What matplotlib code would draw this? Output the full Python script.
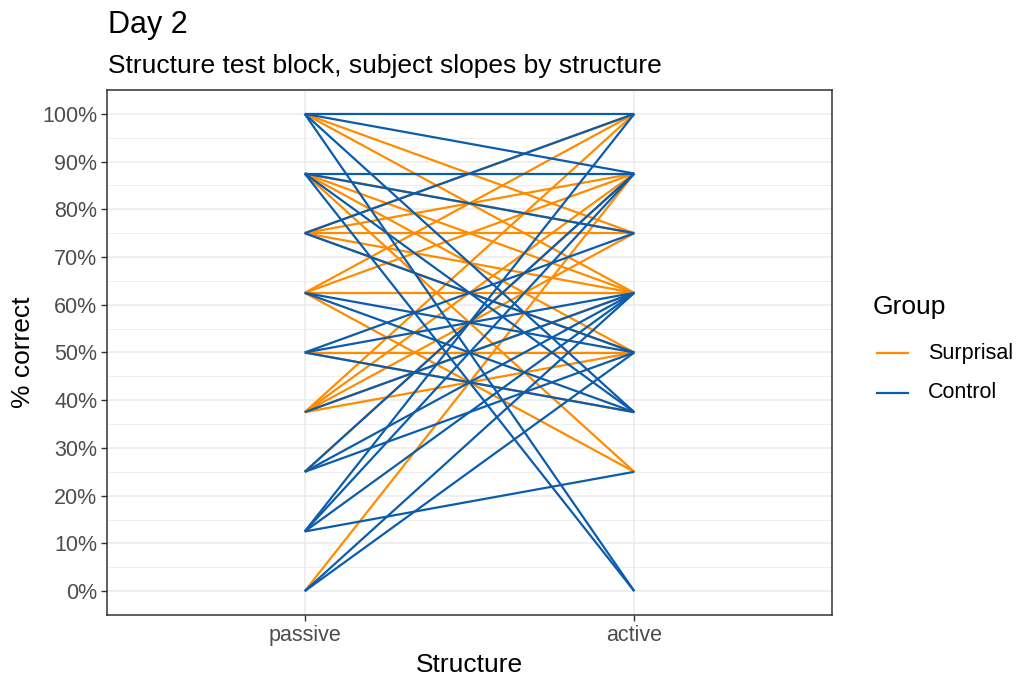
import matplotlib.pyplot as plt
from matplotlib.lines import Line2D
from matplotlib.ticker import MultipleLocator, PercentFormatter

plt.rcParams['font.family'] = ['Liberation Sans', 'DejaVu Sans']

# Subject scores (% correct), passive -> active
surprisal_passive = [100, 100, 87.5, 87.5, 87.5, 87.5, 75, 75, 75, 75, 75,
                     62.5, 62.5, 62.5, 62.5, 50, 50, 37.5, 37.5, 37.5, 37.5,
                     37.5, 25, 0]
surprisal_active = [75, 62.5, 75, 62.5, 50, 25, 75, 87.5, 62.5, 100, 50,
                    62.5, 100, 87.5, 25, 50, 37.5, 100, 87.5, 75, 62.5,
                    50, 87.5, 87.5]
control_passive = [100, 100, 100, 100, 87.5, 87.5, 87.5, 87.5, 75, 75,
                   62.5, 62.5, 50, 50, 50, 37.5, 25, 25, 25, 12.5, 12.5,
                   12.5, 12.5, 0, 0]
control_active = [100, 87.5, 0, 37.5, 87.5, 75, 0, 37.5, 100, 50, 37.5,
                  50, 62.5, 75, 37.5, 62.5, 87.5, 62.5, 50, 100, 62.5,
                  25, 87.5, 50, 62.5]

structures = ['passive', 'active']
groups = ['Surprisal', 'Control']
colors = {'Surprisal': '#FF8C00', 'Control': '#0B5CAD'}

fig = plt.figure(figsize=(10.17, 6.8), dpi=100)
ax = fig.add_axes([107 / 1017, 65 / 680, 725 / 1017, 525 / 680])

for p, a in zip(surprisal_passive, surprisal_active):
    ax.plot([0, 1], [p / 100, a / 100], color=colors['Surprisal'], lw=1.6,
            solid_capstyle='butt', zorder=3)
for p, a in zip(control_passive, control_active):
    ax.plot([0, 1], [p / 100, a / 100], color=colors['Control'], lw=1.6,
            solid_capstyle='butt', zorder=3)

ax.set_xlim(-0.6, 1.6)
ax.set_ylim(-0.05, 1.05)
ax.set_xticks([0, 1])
ax.set_xticklabels(structures)
ax.yaxis.set_major_locator(MultipleLocator(0.1))
ax.yaxis.set_minor_locator(MultipleLocator(0.05))
ax.yaxis.set_major_formatter(PercentFormatter(1.0, decimals=0))
ax.grid(True, which='major', color='#EBEBEB', lw=1.1, zorder=0)
ax.grid(True, which='minor', axis='y', color='#EBEBEB', lw=0.6, zorder=0)
ax.set_axisbelow(True)
for s in ax.spines.values():
    s.set_color('#333333')
    s.set_linewidth(1.1)
ax.tick_params(axis='both', which='major', labelsize=15.5, labelcolor='#4D4D4D',
               color='#333333', length=4, width=1.0, pad=3)
ax.tick_params(axis='y', which='minor', length=0)

ax.set_xlabel('Structure', fontsize=19, labelpad=5)
ax.set_ylabel('% correct', fontsize=19, labelpad=5)

fig.text(108 / 1017, 1 - 33 / 680, 'Day 2', fontsize=22, va='baseline', ha='left')
fig.text(108 / 1017, 1 - 73 / 680, 'Structure test block, subject slopes by structure',
         fontsize=19, va='baseline', ha='left')

# Legend
fig.text(873 / 1017, 1 - 307 / 680, 'Group', fontsize=19, va='center', ha='left')
for i, g in enumerate(groups):
    y = 1 - (353 + 40 * i) / 680
    fig.add_artist(Line2D([877 / 1017, 908 / 1017], [y, y], color=colors[g],
                          lw=1.6, transform=fig.transFigure))
    fig.text(928 / 1017, y, g, fontsize=15.5, va='center', ha='left')

fig.savefig('out.png', dpi=100)
